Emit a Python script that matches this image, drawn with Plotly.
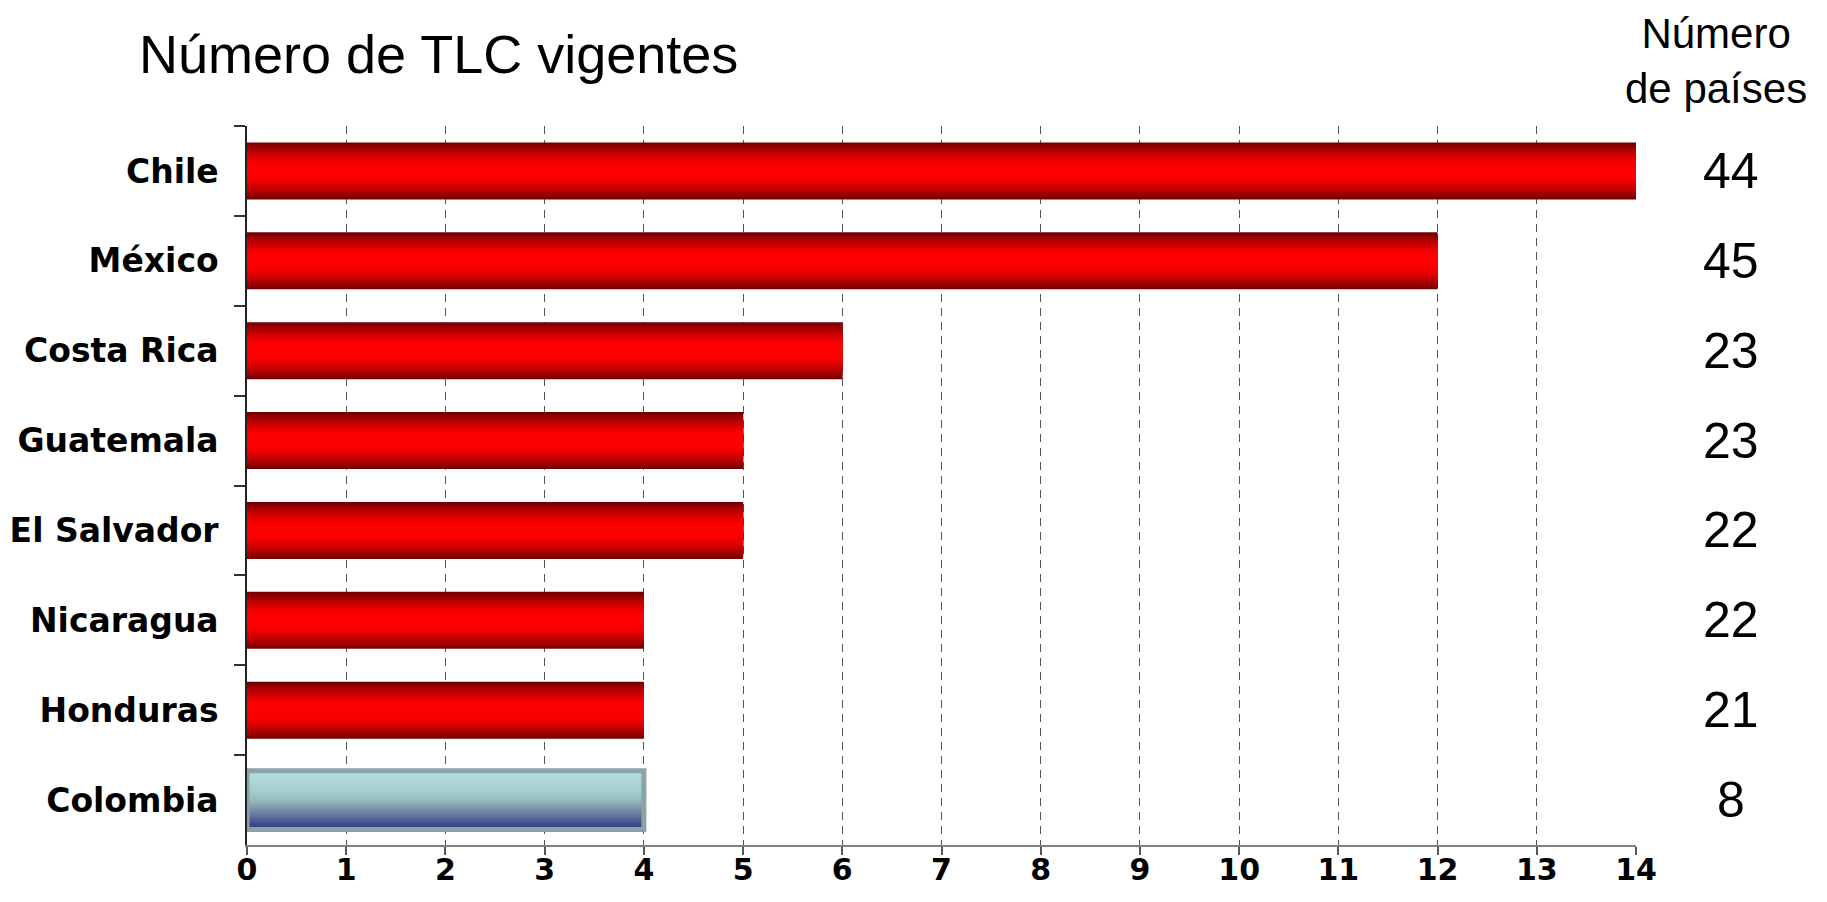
import plotly.graph_objects as go

# ---- data ----
countries = ["Chile", "México", "Costa Rica", "Guatemala", "El Salvador",
             "Nicaragua", "Honduras", "Colombia"]
tlc_vigentes = [14, 12, 6, 5, 5, 4, 4, 4]
numero_paises = [44, 45, 23, 23, 22, 22, 21, 8]
highlight = "Colombia"
x_ticks = list(range(0, 15))

title_text = "Número de TLC vigentes"
header_text = "Número<br>de países"

# ---- styling helpers ----
def hex2rgb(h):
    h = h.lstrip("#")
    return tuple(int(h[i:i + 2], 16) for i in (0, 2, 4))

def interp(stops, t):
    for (t0, c0), (t1, c1) in zip(stops[:-1], stops[1:]):
        if t <= t1:
            f = 0 if t1 == t0 else (t - t0) / (t1 - t0)
            a, b = hex2rgb(c0), hex2rgb(c1)
            return "rgb(%d,%d,%d)" % tuple(round(a[i] + (b[i] - a[i]) * f) for i in range(3))
    return "rgb(%d,%d,%d)" % hex2rgb(stops[-1][1])

# distance from bar centre (0) to edge (1)
red_stops = [(0.0, "#FF0000"), (0.3, "#F80000"), (0.7, "#B80000"), (1.0, "#6E0000")]
# top (0) to bottom (1)
col_stops = [(0.0, "#B5E0E1"), (0.35, "#A5CDCD"), (0.5, "#98BBBD"),
             (0.7, "#7386A6"), (0.85, "#4E5A92"), (1.0, "#2C3480")]

BAR_W = 0.634
COL_W = 0.655
N_LAYERS = 24

red_c = [c for c in countries if c != highlight]
red_v = [v for c, v in zip(countries, tlc_vigentes) if c != highlight]
hi_v = [v for c, v in zip(countries, tlc_vigentes) if c == highlight]

fig = go.Figure()

# red bars: concentric layers give a vertical gradient (dark edges, bright centre)
for k in range(N_LAYERS):
    frac = 1 - k / N_LAYERS
    d = 1 - (k + 0.5) / N_LAYERS
    fig.add_trace(go.Bar(
        x=red_v, y=red_c, orientation="h", width=BAR_W * frac,
        marker=dict(color=interp(red_stops, d), line=dict(width=0)),
        showlegend=False, hoverinfo="skip" if k else "x+y",
    ))

# highlighted bar: light top to dark navy bottom
for k in range(N_LAYERS):
    w = COL_W * (1 - k / N_LAYERS)
    s = (k + 0.5) / N_LAYERS
    fig.add_trace(go.Bar(
        x=hi_v, y=[highlight], orientation="h", width=w, offset=COL_W / 2 - w,
        marker=dict(color=interp(col_stops, s), line=dict(width=0)),
        showlegend=False, hoverinfo="skip" if k else "x+y",
    ))
# border of highlighted bar
fig.add_trace(go.Bar(
    x=hi_v, y=[highlight], orientation="h", width=COL_W,
    marker=dict(color="rgba(0,0,0,0)", line=dict(color="#8AA4A6", width=5)),
    showlegend=False, hoverinfo="skip",
))

annotations = []
for c, n in zip(countries, numero_paises):
    annotations.append(dict(
        x=1.0684, xref="paper", y=c, yref="y", text=str(n), showarrow=False,
        xanchor="center", yanchor="middle",
        font=dict(family="Liberation Sans, Arial", size=50, color="black"),
    ))
annotations.append(dict(
    x=-0.0792, xref="paper", y=1.1008, yref="paper", text=title_text,
    showarrow=False, xanchor="left", yanchor="middle",
    font=dict(family="Liberation Sans, Arial", size=54, color="black"),
))
annotations.append(dict(
    x=1.0576, xref="paper", y=1.090, yref="paper", text=header_text,
    showarrow=False, xanchor="center", yanchor="middle", align="center",
    font=dict(family="Liberation Sans, Arial", size=42, color="black"),
))

# the page body adds an 8px offset; size and margins compensate for it
fig.update_layout(
    width=1819, height=894,
    margin=dict(l=239, r=191, t=118, b=57, autoexpand=False),
    paper_bgcolor="white", plot_bgcolor="white",
    barmode="overlay", bargap=0.366,
    annotations=annotations,
    showlegend=False,
    xaxis=dict(
        range=[0, 14], tickvals=x_ticks, ticktext=[str(t) for t in x_ticks],
        showgrid=True, gridcolor="#555555", gridwidth=1, griddash="8px,6px",
        showline=True, linecolor="#808080", linewidth=2,
        ticks="outside", ticklen=8, tickcolor="#555555", tickwidth=1.5,
        ticklabelstandoff=-11, automargin=False,
        tickfont=dict(family="DejaVu Sans", size=30, color="black", weight="bold"),
        zeroline=False, fixedrange=True,
    ),
    yaxis=dict(
        type="category", categoryorder="array", categoryarray=countries,
        autorange="reversed",
        showgrid=False, zeroline=False,
        showline=True, linecolor="#222222", linewidth=1.5,
        ticks="outside", tickson="boundaries", ticklen=11, tickcolor="#333333",
        tickwidth=1.5, ticklabelstandoff=20, automargin=False,
        tickfont=dict(family="DejaVu Sans", size=33, color="black", weight="bold"),
        fixedrange=True,
    ),
)

fig.write_html("out.html")
